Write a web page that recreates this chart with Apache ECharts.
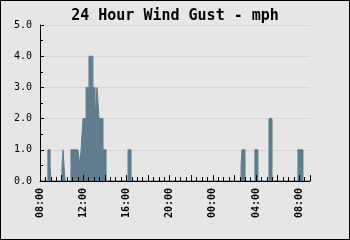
<!DOCTYPE html>
<html>
<head>
<meta charset="utf-8">
<script src="https://cdn.jsdelivr.net/npm/echarts@6/dist/echarts.min.js"></script>
<style>
html,body{margin:0;padding:0;background:#e6e6e6;}
#c{width:350px;height:240px;}
</style>
</head>
<body>
<div id="c"></div>
<script>
// Step points: gust value holds from this time until the next time
var gustTimes = ['08:00','08:44','08:56','09:01','10:02','10:08','10:19',
  '10:52','11:26','11:31','11:42','11:48','11:59','12:16','12:32','12:54',
  '13:06','13:17','13:28','13:50','14:07','16:09','16:26',
  '02:37','02:42','02:59','03:54','04:11','05:12','05:29','07:53','08:21','09:00'];
var gustValues = [0,1.0,0.5,0,0.5,1.0,0,
  1.0,0.5,1.0,0.5,1.0,2.0,3.0,4.0,3.0,
  2.0,3.0,2.0,1.0,0,1.0,0,
  0.5,1.0,0,1.0,0,2.0,0,1.0,0,0];
var yTicks = ['0.0','1.0','2.0','3.0','4.0','5.0'];
var startHour = 8;

function toHours(list){
  var out=[], offset=0, prev=-1;
  for (var i=0;i<list.length;i++){
    var p=list[i].split(':');
    var h=(+p[0])+(+p[1])/60;
    var rel=h-startHour+offset;
    if (prev>=0 && rel<prev){ offset+=24; rel+=24; }
    prev=rel; out.push(rel);
  }
  return out;
}
var hrs = toHours(gustTimes);
var data = hrs.map(function(h,i){return [h,gustValues[i]];});

var chart = echarts.init(document.getElementById('c'));
chart.setOption({
  backgroundColor:'#e6e6e6',
  animation:false,
  title:{text:'24 Hour Wind Gust - mph',left:'center',top:4,
    textStyle:{fontFamily:'DejaVu Sans Mono',fontSize:15,fontWeight:'bold',color:'#000'}},
  graphic:[{type:'rect',shape:{x:0.5,y:0.5,width:349,height:239},
    style:{fill:'none',stroke:'#000',lineWidth:1},z:100}],
  grid:{left:40,right:40,top:25,bottom:59},
  xAxis:{type:'value',min:0,max:25,interval:2,z:5,offset:1,
    axisLine:{lineStyle:{color:'#000',width:1}},
    axisTick:{inside:true,length:6,lineStyle:{color:'#000'}},
    minorTick:{show:true,splitNumber:4,length:4,lineStyle:{color:'#000'}},
    splitLine:{show:false},
    axisLabel:{rotate:90,margin:6,fontFamily:'DejaVu Sans Mono',fontSize:10,fontWeight:'bold',color:'#000',
      showMaxLabel:false,
      formatter:function(v){ if (v%4!==0) return ''; var h=(startHour+v)%24; return (h<10?'0':'')+h+':00';}}
  },
  yAxis:{type:'value',min:0,max:5,interval:1,
    axisLine:{show:true,lineStyle:{color:'#000',width:1}},
    axisTick:{show:true,inside:true,length:4,lineStyle:{color:'#000'}},
    minorTick:{show:true,splitNumber:2,length:3,lineStyle:{color:'#000'}},
    splitLine:{show:true,lineStyle:{color:'#d6d6d6',width:1}},
    axisLabel:{margin:8,fontFamily:'DejaVu Sans Mono',fontSize:10,color:'#000',
      formatter:function(v){return yTicks[Math.round(v)];}}
  },
  series:[{type:'line',step:'end',symbol:'none',data:data,
    lineStyle:{color:'#607d8e',width:1,join:'miter',cap:'butt'},
    areaStyle:{color:'#607d8e',opacity:1}}]
});
</script>
</body>
</html>
